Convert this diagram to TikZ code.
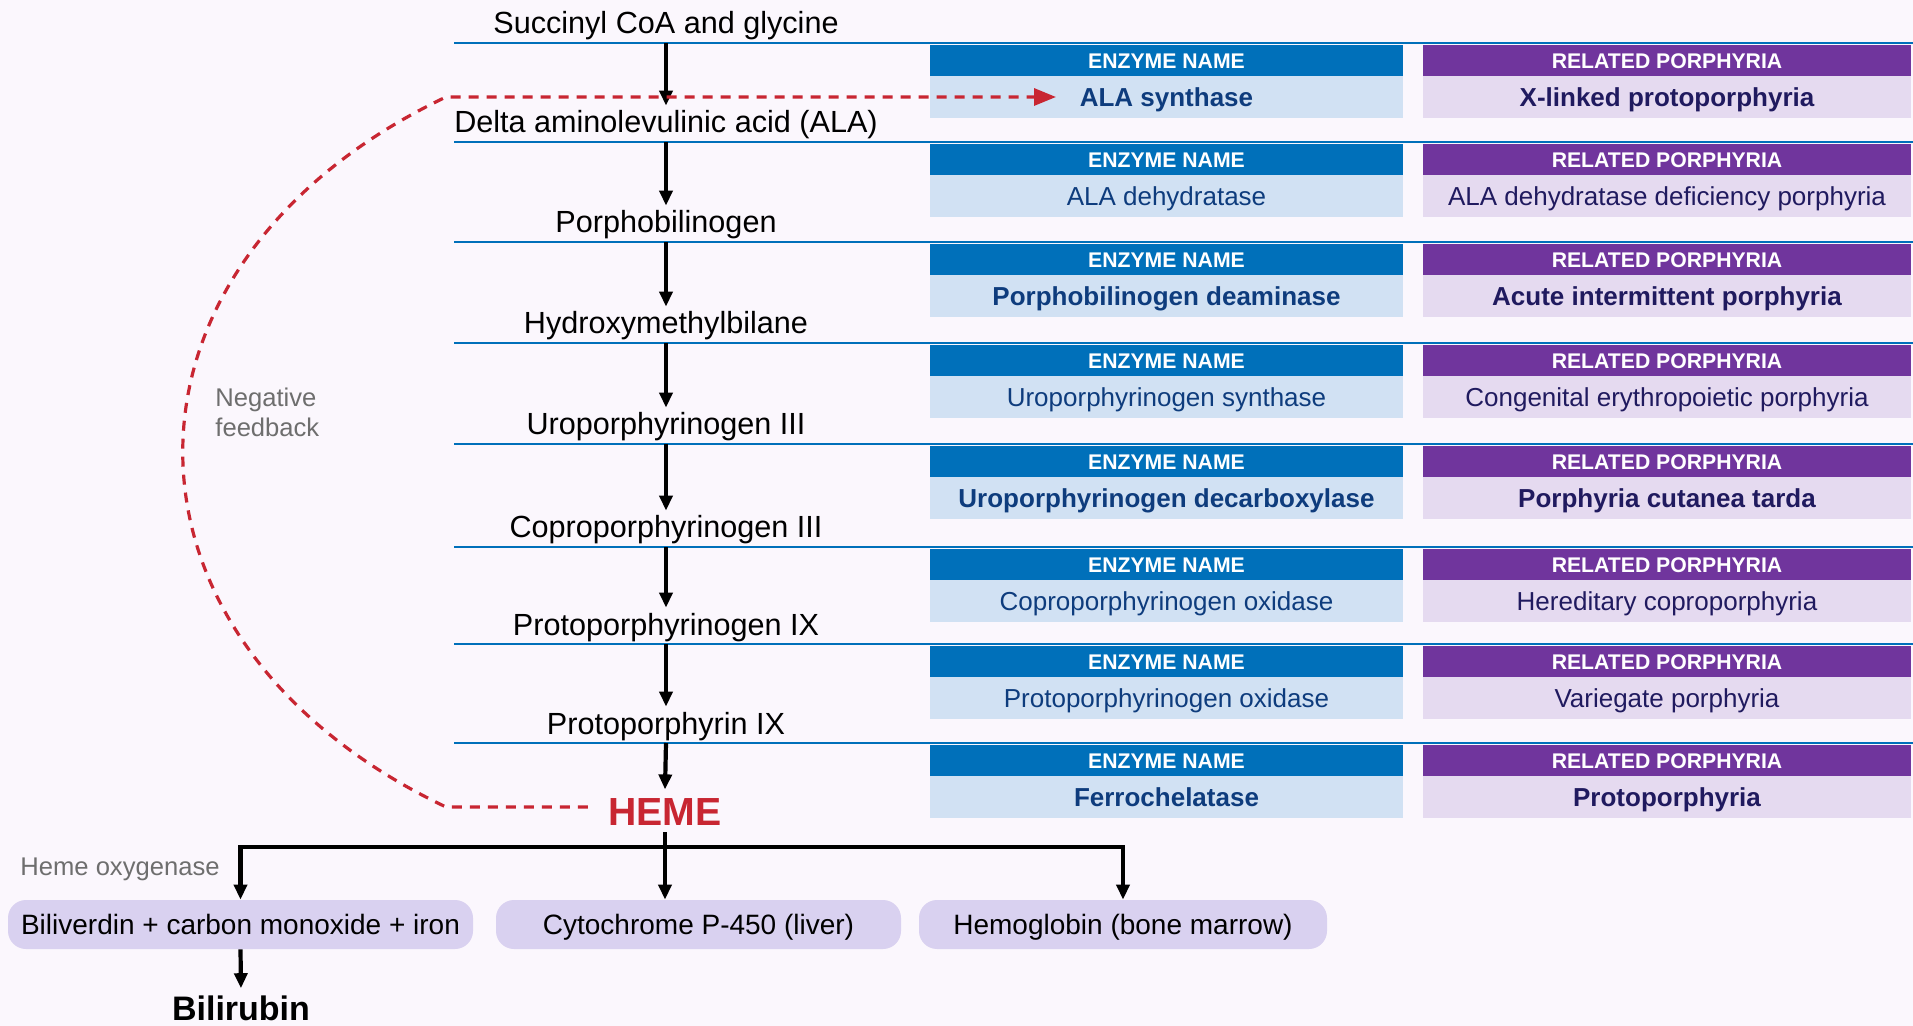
\documentclass[tikz,border=0pt]{standalone}
\usepackage{fontspec}
\setmainfont{Liberation Sans}
\usetikzlibrary{arrows.meta}
\definecolor{bgc}{RGB}{251,247,253}
\definecolor{hblue}{RGB}{0,112,186}
\definecolor{lblue}{RGB}{209,225,243}
\definecolor{hpurp}{RGB}{112,53,157}
\definecolor{lpurp}{RGB}{229,218,240}
\definecolor{etext}{RGB}{14,60,125}
\definecolor{ptext}{RGB}{32,26,95}
\definecolor{hred}{RGB}{200,38,50}
\definecolor{gtext}{RGB}{110,110,110}
\definecolor{boxf}{RGB}{217,209,240}
% #1 index, #2 line y, #3 enzyme, #4 porphyria, #5 weight style
\newcommand\hemrow[5]{%
  \coordinate (L#1a) at (454,#2);
  \coordinate (L#1b) at (1913,#2);
  \coordinate (a#1) at (666,#2);
  \draw[rowline] (L#1a) -- (L#1b);
  \node[ehead, anchor=north west] (eh#1) at (930,{#2+2}) {ENZYME NAME};
  \node[ebody, #5, anchor=north] (eb#1) at (eh#1.south) {#3};
  \node[phead, anchor=north west] (ph#1) at (1423,{#2+2}) {RELATED PORPHYRIA};
  \node[pbody, #5, anchor=north] (pb#1) at (ph#1.south) {#4};
}
\begin{document}
\begin{tikzpicture}[x=0.5pt,y=-0.5pt,
  metab/.style={anchor=base, inner sep=0pt, text height=11pt, text depth=3pt,
    font=\fontsize{15.3}{18}\selectfont},
  rowline/.style={draw=hblue, line width=1.2pt},
  ehead/.style={fill=hblue, text=white, font=\fontsize{10.6}{12}\selectfont\bfseries,
    minimum width=236.5pt, minimum height=15.5pt, inner sep=0pt, outer sep=0pt,
    text height=7.6pt, text depth=0pt},
  ebody/.style={fill=lblue, text=etext, minimum width=236.5pt, minimum height=21pt,
    inner sep=0pt, outer sep=0pt, text height=9.4pt, text depth=0pt},
  phead/.style={fill=hpurp, text=white, font=\fontsize{10.6}{12}\selectfont\bfseries,
    minimum width=244pt, minimum height=15.5pt, inner sep=0pt, outer sep=0pt,
    text height=7.6pt, text depth=0pt},
  pbody/.style={fill=lpurp, text=ptext, minimum width=244pt, minimum height=21pt,
    inner sep=0pt, outer sep=0pt, text height=9.4pt, text depth=0pt},
  bodyreg/.style={font=\fontsize{13}{15}\selectfont},
  bodybold/.style={font=\fontsize{13}{15}\selectfont\bfseries},
  arr/.style={line width=2.1pt, -{Triangle[length=7.5pt,width=6.5pt]}},
  fb/.style={draw=hred, line width=1.6pt, dash pattern=on 5pt off 4pt},
  bbox/.style={fill=boxf, rounded corners=9pt, minimum height=24.5pt, inner sep=0pt,
    font=\fontsize{14}{16}\selectfont, text height=10.1pt, text depth=0pt},
  note/.style={text=gtext, font=\fontsize{12.8}{15}\selectfont, inner sep=0pt}
]
\fill[bgc] (0,0) rectangle (1913,1026);
\useasboundingbox (0,0) rectangle (1913,1026);

% metabolites
\node[metab] (m0) at (666,34) {Succinyl CoA and glycine};
\node[metab] (m1) at (666,133) {Delta aminolevulinic acid (ALA)};
\node[metab] (m2) at (666,233) {Porphobilinogen};
\node[metab] (m3) at (666,334) {Hydroxymethylbilane};
\node[metab] (m4) at (666,435) {Uroporphyrinogen III};
\node[metab] (m5) at (666,538) {Coproporphyrinogen III};
\node[metab] (m6) at (666,635) {Protoporphyrinogen IX};
\node[metab] (m7) at (666,734) {Protoporphyrin IX};

% rows
\hemrow{0}{43}{ALA synthase}{X-linked protoporphyria}{bodybold}
\hemrow{1}{142}{ALA dehydratase}{ALA dehydratase deficiency porphyria}{bodyreg}
\hemrow{2}{242}{Porphobilinogen deaminase}{Acute intermittent porphyria}{bodybold}
\hemrow{3}{343}{Uroporphyrinogen synthase}{Congenital erythropoietic porphyria}{bodyreg}
\hemrow{4}{444}{Uroporphyrinogen decarboxylase}{Porphyria cutanea tarda}{bodybold}
\hemrow{5}{547}{Coproporphyrinogen oxidase}{Hereditary coproporphyria}{bodyreg}
\hemrow{6}{644}{Protoporphyrinogen oxidase}{Variegate porphyria}{bodyreg}
\hemrow{7}{743}{Ferrochelatase}{Protoporphyria}{bodybold}

% HEME
\node[anchor=base, text=hred, font=\fontsize{19.6}{22}\selectfont\bfseries,
  inner xsep=10pt, inner ysep=3.5pt, text height=14.1pt, text depth=0pt] (heme) at (665,825) {HEME};

% pathway arrows
\draw[arr, shorten >=2.5pt] (a0) -- (m1.north);
\draw[arr, shorten >=2.5pt] (a1) -- (m2.north);
\draw[arr, shorten >=2.5pt] (a2) -- (m3.north);
\draw[arr, shorten >=2.5pt] (a3) -- (m4.north);
\draw[arr, shorten >=2.5pt] (a4) -- (m5.north);
\draw[arr, shorten >=2.5pt] (a5) -- (m6.north);
\draw[arr, shorten >=2.5pt] (a6) -- (m7.north);
\draw[arr] (a7) -- (heme.north);

% negative feedback
\coordinate (fb1) at (446,807);
\coordinate (fb2) at (446,97);
\coordinate (fbend) at (1056,97);
\draw[fb, -{Triangle[length=11pt,width=8.5pt]}] (fb1 -| heme.west) -- (fb1)
  .. controls (95,640) and (95,264) .. (fb2) -- (fbend);
\node[note, anchor=west, align=left] (negfb) at (215,412) {Negative\\feedback};

% products
\node[bbox, minimum width=232.5pt] (bili) at (240.5,924.5) {Biliverdin + carbon monoxide + iron};
\node[bbox, minimum width=202.5pt] (cyto) at (698.5,924.5) {Cytochrome P-450 (liver)};
\node[bbox, minimum width=204pt] (hemo) at (1123,924.5) {Hemoglobin (bone marrow)};
\coordinate (bar) at (666,847);
\draw[arr] (heme.south) -- (heme.south |- cyto.north);
\draw[line width=2.1pt, {Triangle[length=7.5pt,width=6.5pt]}-{Triangle[length=7.5pt,width=6.5pt]}]
  (bili.north) -- (bili.north |- bar) -- (hemo.north |- bar) -- (hemo.north);
\node[note, anchor=base west] (hox) at (20,875) {Heme oxygenase};

\node[anchor=base, font=\fontsize{17}{20}\selectfont\bfseries, inner xsep=0pt,
  inner ysep=3.5pt, text height=12.2pt, text depth=0pt] (bilirubin) at (241,1020) {Bilirubin};
\draw[arr] (bili.south) -- (bilirubin.north);
\end{tikzpicture}
\end{document}
